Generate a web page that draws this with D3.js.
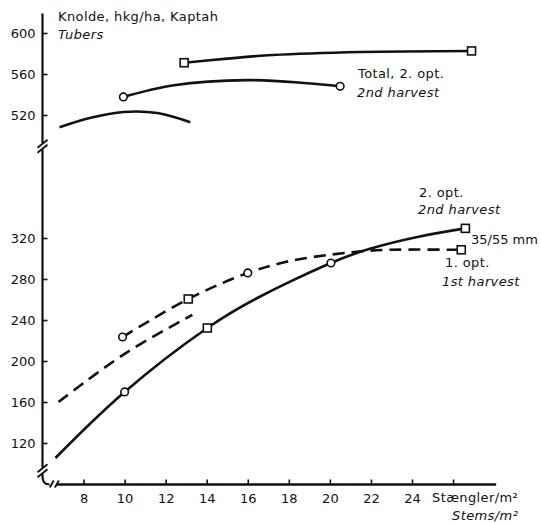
<!DOCTYPE html>
<html><head><meta charset="utf-8">
<script src="https://cdn.jsdelivr.net/npm/d3@7"></script>
<style>
html,body{margin:0;padding:0;background:#fff;}
text{font-family:"DejaVu Sans",sans-serif;fill:#111;}
</style></head>
<body>
<svg id="c" width="541" height="523"></svg>
<script>
// ---------- data ----------
const xTicks = [8, 10, 12, 14, 16, 18, 20, 22, 24, 26];
const xTickLabels = ["8", "10", "12", "14", "16", "18", "20", "22", "24", ""];
const yUpperTicks = [520, 560, 600];
const yLowerTicks = [120, 160, 200, 240, 280, 320];

// upper panel: totals
const totalSquareX = [12.9, 15.0, 17.2, 21.5, 26.9];
const totalSquareY = [571, 575, 578.5, 581.5, 582.5];
const totalCircleX = [9.94, 12.4, 16.0, 18.9, 20.5];
const totalCircleY = [537.6, 549, 554, 551, 548];
const totalFirstX = [6.83, 8.3, 9.95, 11.6, 13.2];
const totalFirstY = [508, 517, 523, 522, 513];

// lower panel: 35/55 mm
const opt2X = [6.63, 10.0, 14.03, 16.44, 18.06, 20.05, 21.95, 24.38, 26.6];
const opt2Y = [105.4, 169.8, 232.2, 261.2, 277.4, 295.6, 309.5, 321.5, 329.4];
const opt1X = [9.9, 13.1, 16.0, 18.06, 20.15, 21.5, 22.9, 26.4];
const opt1Y = [223.4, 260.5, 285.9, 297.6, 304, 307, 308.5, 308.5];
const opt1FirstX = [6.78, 10.0, 13.3];
const opt1FirstY = [160, 207, 245];

// markers
const upperSquareX = [12.9, 26.9], upperSquareY = [571, 582.5];
const upperCircleX = [9.94, 20.5], upperCircleY = [537.6, 548];
const lowerCircleX = [10.0, 20.05, 9.9, 16.0], lowerCircleY = [169.8, 295.6, 223.4, 285.9];
const lowerSquareX = [14.03, 26.6, 13.1, 26.4], lowerSquareY = [232.2, 329.4, 260.5, 308.5];

// ---------- drawing ----------
const svg = d3.select("#c");
const x = d3.scaleLinear().domain([6, 24]).range([42.5, 412]);
const yUp = d3.scaleLinear().domain([520, 600]).range([115, 33]);
const yLo = d3.scaleLinear().domain([120, 320]).range([443, 238]);
const axX = x(6), axY = 484.5;

const zip = (a, b) => a.map((v, i) => [v, b[i]]);
const lineUp = d3.line().x(d => x(d[0])).y(d => yUp(d[1])).curve(d3.curveCatmullRom.alpha(0.5));
const lineLo = d3.line().x(d => x(d[0])).y(d => yLo(d[1])).curve(d3.curveCatmullRom.alpha(0.5));
const lineLoSmooth = d3.line().x(d => x(d[0])).y(d => yLo(d[1])).curve(d3.curveNatural);

// Y axis line
svg.append("path")
  .attr("d", `M${axX},${yUp(619)} L${axX},${axY - 8} Q${axX},${axY} ${axX + 7},${axY}`)
  .attr("fill", "none").attr("stroke", "#111").attr("stroke-width", 2.2);

// Y axes ticks
const yAxUp = d3.axisLeft(yUp).tickValues(yUpperTicks).tickSize(-5).tickPadding(7);
const yAxLo = d3.axisLeft(yLo).tickValues(yLowerTicks).tickSize(-5).tickPadding(7);
[yAxUp, yAxLo].forEach(a => {
  const g = svg.append("g").attr("transform", `translate(${axX},0)`).call(a);
  g.select(".domain").remove();
  g.selectAll("line").attr("stroke", "#111").attr("stroke-width", 1.6);
  g.selectAll("text").style("font-family", "DejaVu Sans").style("font-size", "13px").attr("fill", "#111");
});

// breaks on Y axis
[yUp(489.5), yLo(93)].forEach(yb => {
  svg.append("rect").attr("x", axX - 3).attr("y", yb - 3).attr("width", 6).attr("height", 6).attr("fill", "#fff");
  [-2.5, 2.5].forEach(o => {
    svg.append("line").attr("x1", axX - 5).attr("y1", yb + o + 4).attr("x2", axX + 5).attr("y2", yb + o - 4)
      .attr("stroke", "#111").attr("stroke-width", 1.8);
  });
});

// X axis
const xAx = d3.axisBottom(x).tickValues(xTicks).tickFormat((d, i) => xTickLabels[i]).tickSize(-5).tickPadding(9);
const gx = svg.append("g").attr("transform", `translate(0,${axY})`).call(xAx);
gx.select(".domain").remove();
gx.selectAll("line").attr("stroke", "#111").attr("stroke-width", 1.6);
gx.selectAll("text").style("font-family", "DejaVu Sans").style("font-size", "13px").attr("fill", "#111");
svg.append("line").attr("x1", x(6.7)).attr("x2", x(28.1)).attr("y1", axY).attr("y2", axY)
  .attr("stroke", "#111").attr("stroke-width", 2.4);
// X break slashes
[x(6.45), x(6.7)].forEach(xb => {
  svg.append("line").attr("x1", xb - 2).attr("y1", axY + 3).attr("x2", xb + 2).attr("y2", axY - 4)
    .attr("stroke", "#111").attr("stroke-width", 1.8);
});

// curves
function curve(gen, xs, ys, dashed) {
  svg.append("path").attr("d", gen(zip(xs, ys))).attr("fill", "none")
    .attr("stroke", "#111").attr("stroke-width", 2.6).attr("stroke-linecap", "butt")
    .attr("stroke-dasharray", dashed ? "12,7" : null);
}
curve(lineUp, totalSquareX, totalSquareY, false);
curve(lineUp, totalCircleX, totalCircleY, false);
curve(lineUp, totalFirstX, totalFirstY, false);
curve(lineLoSmooth, opt2X, opt2Y, false);
curve(lineLo, opt1X, opt1Y, true);
curve(lineLo, opt1FirstX, opt1FirstY, true);

// markers
function circles(sc, xs, ys) {
  svg.append("g").selectAll("circle").data(zip(xs, ys)).join("circle")
    .attr("cx", d => x(d[0])).attr("cy", d => sc(d[1])).attr("r", 3.8)
    .attr("fill", "#fff").attr("stroke", "#111").attr("stroke-width", 1.6);
}
function squares(sc, xs, ys) {
  svg.append("g").selectAll("rect").data(zip(xs, ys)).join("rect")
    .attr("x", d => x(d[0]) - 4).attr("y", d => sc(d[1]) - 4).attr("width", 8).attr("height", 8)
    .attr("fill", "#fff").attr("stroke", "#111").attr("stroke-width", 1.6);
}
circles(yUp, upperCircleX, upperCircleY);
squares(yUp, upperSquareX, upperSquareY);
circles(yLo, lowerCircleX, lowerCircleY);
squares(yLo, lowerSquareX, lowerSquareY);

// texts
function txt(s, tx, ty, italic, ls) {
  svg.append("text").attr("x", tx).attr("y", ty).text(s)
    .style("font-size", "13px").style("letter-spacing", (ls === undefined ? 0.4 : ls) + "px")
    .style("font-style", italic ? "italic" : "normal");
}
txt("Knolde, hkg/ha, Kaptah", 58, 21, false);
txt("Tubers", 58, 38.5, true);
txt("Total, 2. opt.", 358, 78, false);
txt("2nd harvest", 357, 97, true);
txt("2. opt.", 419, 197, false);
txt("2nd harvest", 418, 214, true);
txt("35/55 mm", 471, 244, false, 0);
txt("1. opt.", 445, 267, false);
txt("1st harvest", 442, 286, true);
txt("Stængler/m²", 432, 502, false);
txt("Stems/m²", 452, 520, true);
</script>
</body></html>
